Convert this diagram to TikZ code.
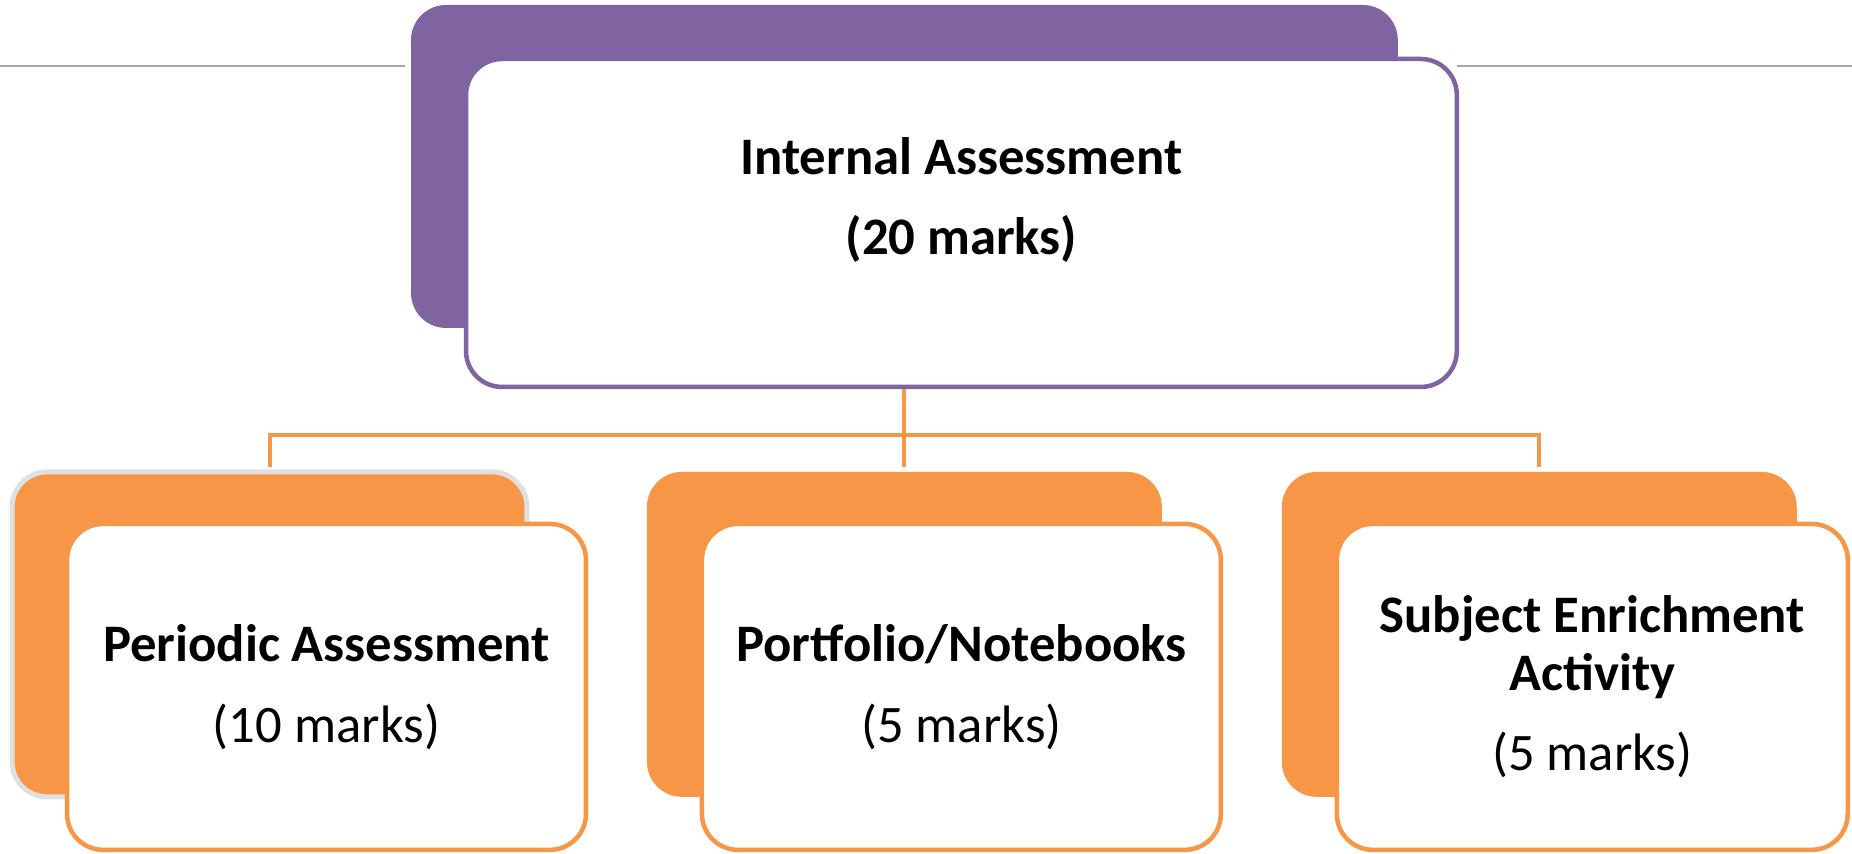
\documentclass[tikz,border=0pt]{standalone}
\usepackage{fontspec}
\setmainfont{Carlito}
\usetikzlibrary{positioning}

\definecolor{iapurple}{HTML}{8064A2}
\definecolor{iaorange}{HTML}{F79646}

\begin{document}
\begin{tikzpicture}[x=0.02cm, y=-0.02cm, node distance=2.4cm,
  backcard/.style={rectangle, rounded corners=0.7cm, inner sep=0pt, outer sep=0pt,
    minimum width=10.3cm, minimum height=6.5cm, fill=iaorange},
  frontcard/.style={rectangle, rounded corners=0.72cm, inner sep=0pt, outer sep=0pt,
    minimum width=10.38cm, minimum height=6.52cm, fill=white, draw=iaorange,
    line width=0.09cm, anchor=north west},
  boxtext/.style={align=center, font=\fontsize{30}{33}\selectfont},
  link/.style={draw=iaorange, line width=0.08cm},
  rule/.style={draw=gray!70, line width=0.03cm}]
  \useasboundingbox (0,0) rectangle (1852,854);

  % Nodes
  \node[backcard, fill=iapurple, anchor=north west, minimum width=19.74cm,
    minimum height=6.46cm] (topback) at (411,5) {};
  \node[backcard, below=2.88cm of topback] (pnback) {};
  \node[backcard, left=of pnback, draw=black!12, line width=0.1cm] (paback) {};
  \node[backcard, right=of pnback] (seback) {};

  % Lines
  \draw[rule] (0,66) -- (405,66);
  \draw[rule] (1457,66) -- (1852,66);
  \draw[link] (topback.south) -- ++(0,107) coordinate (bus);
  \foreach \c in {pa,pn,se}
    \draw[link, shorten >=0.1cm] (bus) -| (\c back.north);

  % Front cards
  \node[frontcard, draw=iapurple, minimum width=19.82cm, minimum height=6.56cm]
    (topfront) at ([shift={(55,54)}]topback.north west) {};
  \node[frontcard] (pafront) at ([shift={(55,52)}]paback.north west) {};
  \node[frontcard] (pnfront) at ([shift={(55,52)}]pnback.north west) {};
  \node[frontcard, minimum width=10.22cm] (sefront) at ([shift={(55,52)}]seback.north west) {};

  % Texts
  \node[boxtext, font=\fontsize{30}{33}\selectfont\bfseries] (toptext)
    at ([yshift=0.46cm]topfront.center) {Internal Assessment\\[12.5pt](20 marks)};
  \node[boxtext] (patext) at (pafront.center) {\textbf{Periodic Assessment}\\[13pt](10 marks)};
  \node[boxtext] (pntext) at (pnfront.center) {\textbf{Portfolio/Notebooks}\\[13pt](5 marks)};
  \node[boxtext] (setext) at (sefront.center) {\textbf{Subject Enrichment}\\\textbf{Activity}\\[12.5pt](5 marks)};
\end{tikzpicture}
\end{document}
